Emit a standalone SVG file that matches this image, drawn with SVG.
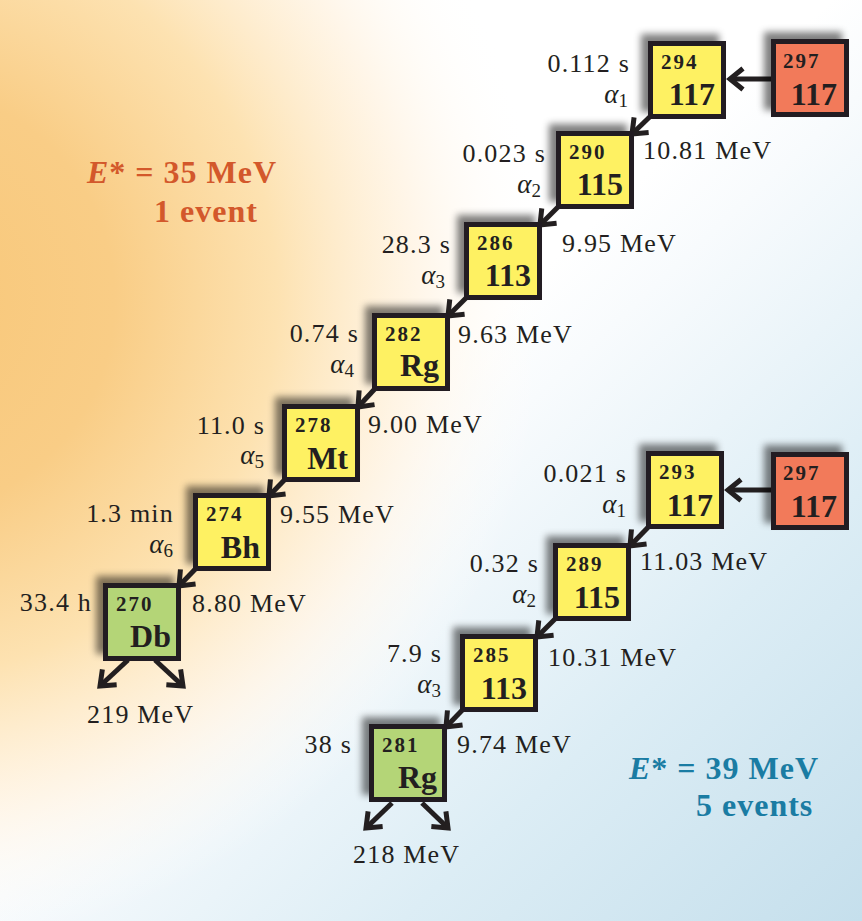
<svg xmlns="http://www.w3.org/2000/svg" width="862" height="921" viewBox="0 0 862 921">
<defs>
<linearGradient id="bg" gradientUnits="userSpaceOnUse" x1="0" y1="0" x2="862" y2="921">
<stop offset="0" stop-color="#FFFFFF"/>
<stop offset="0.45" stop-color="#FFFFFF"/>
<stop offset="0.52" stop-color="#F8FBFD"/>
<stop offset="0.75" stop-color="#DCEDF5"/>
<stop offset="1" stop-color="#C5DFEC"/>
</linearGradient>
<radialGradient id="og" gradientUnits="userSpaceOnUse" cx="-100" cy="300" r="650">
<stop offset="0" stop-color="#F8C778" stop-opacity="1"/>
<stop offset="0.33" stop-color="#F9CD86" stop-opacity="1"/>
<stop offset="0.58" stop-color="#FDE2B1" stop-opacity="1"/>
<stop offset="0.8" stop-color="#FFF4E4" stop-opacity="0.8"/>
<stop offset="1" stop-color="#FFFFFF" stop-opacity="0"/>
</radialGradient>
<filter id="sh" x="-30%" y="-30%" width="160%" height="160%">
<feGaussianBlur in="SourceAlpha" stdDeviation="3.5"/>
<feOffset dx="-7" dy="-7" result="b"/>
<feFlood flood-color="#000" flood-opacity="0.5"/>
<feComposite in2="b" operator="in"/>
<feMerge><feMergeNode/><feMergeNode in="SourceGraphic"/></feMerge>
</filter>
<marker id="ah" markerUnits="userSpaceOnUse" viewBox="-20 -15 26 30" refX="0" refY="0" markerWidth="26" markerHeight="30" orient="auto" overflow="visible">
<path d="M-13,-10.5 L0,0 L-13,10.5" fill="none" stroke="#231F20" stroke-width="5" stroke-linejoin="miter"/>
</marker>
<style>
.box{stroke:#231F20;stroke-width:5;filter:url(#sh)}
.y{fill:#FEF162}.r{fill:#F27A5A}.g{fill:#B4D577}
.num{font-family:"Liberation Serif",serif;font-weight:bold;font-size:21px;letter-spacing:2px;fill:#231F20}
.sym{font-family:"Liberation Serif",serif;font-weight:bold;font-size:32px;fill:#231F20;text-anchor:end}
.lbl{font-family:"Liberation Serif",serif;font-size:26px;letter-spacing:1.2px;fill:#231F20}
.t{text-anchor:end}
.al{font-family:"Liberation Serif",serif;font-size:27px;fill:#231F20;text-anchor:end}
.al .sub{font-size:19px;font-style:normal}
.es{font-family:"Liberation Serif",serif;font-weight:bold;font-size:32px;letter-spacing:1px}
.o{fill:#D3582B}.b{fill:#1A7CA3}
.arr{stroke:#231F20;stroke-width:5;fill:none;marker-end:url(#ah)}
</style>
</defs>
<rect x="0" y="0" width="862" height="921" fill="url(#bg)"/>
<rect x="0" y="0" width="862" height="921" fill="url(#og)"/>

<g id="connectors">
<line class="arr" x1="771" y1="79" x2="730" y2="79"/>
<line class="arr" x1="660" y1="107" x2="632" y2="134"/>
<line class="arr" x1="568" y1="197" x2="540" y2="225"/>
<line class="arr" x1="476" y1="288" x2="448" y2="316"/>
<line class="arr" x1="384" y1="379" x2="358" y2="407"/>
<line class="arr" x1="294" y1="470" x2="269" y2="496"/>
<line class="arr" x1="205" y1="559" x2="179" y2="586"/>
<line class="arr" x1="128" y1="660" x2="100" y2="686"/>
<line class="arr" x1="155" y1="660" x2="183" y2="686"/>
<line class="arr" x1="771" y1="490" x2="728" y2="490"/>
<line class="arr" x1="658" y1="517" x2="630" y2="546"/>
<line class="arr" x1="565" y1="609" x2="537" y2="637"/>
<line class="arr" x1="472" y1="700" x2="446" y2="727"/>
<line class="arr" x1="392" y1="803" x2="366" y2="828"/>
<line class="arr" x1="422" y1="803" x2="448" y2="828"/>
</g>

<g id="n297a"><rect class="box r" x="773.5" y="41.5" width="73" height="73"/><text class="num" x="783" y="68">297</text><text class="sym" x="837" y="105">117</text></g>
<g id="n294"><rect class="box y" x="650.5" y="43.5" width="73" height="73"/><text class="num" x="661" y="69">294</text><text class="sym" x="715" y="105">117</text></g>
<g id="n290"><rect class="box y" x="558.5" y="133.5" width="73" height="73"/><text class="num" x="569" y="159">290</text><text class="sym" x="623" y="195">115</text></g>
<g id="n286"><rect class="box y" x="466.5" y="224.5" width="73" height="73"/><text class="num" x="477" y="250">286</text><text class="sym" x="531" y="286">113</text></g>
<g id="n282"><rect class="box y" x="374.5" y="315.5" width="73" height="73"/><text class="num" x="385" y="341">282</text><text class="sym" x="439" y="376">Rg</text></g>
<g id="n278"><rect class="box y" x="284.5" y="406.5" width="73" height="73"/><text class="num" x="295" y="432">278</text><text class="sym" x="348" y="469">Mt</text></g>
<g id="n274"><rect class="box y" x="195.5" y="495.5" width="73" height="73"/><text class="num" x="206" y="521">274</text><text class="sym" x="260" y="558">Bh</text></g>
<g id="n270"><rect class="box g" x="105.5" y="585.5" width="73" height="73"/><text class="num" x="116" y="611">270</text><text class="sym" x="171" y="647">Db</text></g>

<g id="n297b"><rect class="box r" x="773.5" y="454.5" width="73" height="73"/><text class="num" x="783" y="480">297</text><text class="sym" x="837" y="517">117</text></g>
<g id="n293"><rect class="box y" x="648.5" y="453.5" width="73" height="73"/><text class="num" x="659" y="479">293</text><text class="sym" x="713" y="516">117</text></g>
<g id="n289"><rect class="box y" x="555.5" y="545.5" width="73" height="73"/><text class="num" x="566" y="571">289</text><text class="sym" x="620" y="608">115</text></g>
<g id="n285"><rect class="box y" x="462.5" y="636.5" width="73" height="73"/><text class="num" x="473" y="662">285</text><text class="sym" x="527" y="699">113</text></g>
<g id="n281"><rect class="box g" x="371.5" y="726.5" width="73" height="73"/><text class="num" x="382" y="752">281</text><text class="sym" x="437" y="788">Rg</text></g>

<g id="labels-upper">
<text class="lbl t" x="630" y="72">0.112 s</text>
<text class="al" x="628" y="103"><tspan font-style="italic">α</tspan><tspan class="sub" dy="4">1</tspan></text>
<text class="lbl" x="643" y="159">10.81 MeV</text>
<text class="lbl t" x="546" y="162">0.023 s</text>
<text class="al" x="541" y="193"><tspan font-style="italic">α</tspan><tspan class="sub" dy="4">2</tspan></text>
<text class="lbl" x="562" y="252">9.95 MeV</text>
<text class="lbl t" x="451" y="253">28.3 s</text>
<text class="al" x="445" y="284"><tspan font-style="italic">α</tspan><tspan class="sub" dy="4">3</tspan></text>
<text class="lbl" x="458" y="343">9.63 MeV</text>
<text class="lbl t" x="359" y="342">0.74 s</text>
<text class="al" x="354" y="373"><tspan font-style="italic">α</tspan><tspan class="sub" dy="4">4</tspan></text>
<text class="lbl" x="368" y="433">9.00 MeV</text>
<text class="lbl t" x="265" y="434">11.0 s</text>
<text class="al" x="264" y="464"><tspan font-style="italic">α</tspan><tspan class="sub" dy="4">5</tspan></text>
<text class="lbl" x="280" y="523">9.55 MeV</text>
<text class="lbl t" x="174" y="522">1.3 min</text>
<text class="al" x="173" y="553"><tspan font-style="italic">α</tspan><tspan class="sub" dy="4">6</tspan></text>
<text class="lbl" x="192" y="612">8.80 MeV</text>
<text class="lbl t" x="92" y="611">33.4 h</text>
<text class="lbl" x="87" y="723">219 MeV</text>
</g>

<g id="labels-lower">
<text class="lbl t" x="627" y="482">0.021 s</text>
<text class="al" x="626" y="513"><tspan font-style="italic">α</tspan><tspan class="sub" dy="4">1</tspan></text>
<text class="lbl" x="640" y="570">11.03 MeV</text>
<text class="lbl t" x="539" y="572">0.32 s</text>
<text class="al" x="536" y="603"><tspan font-style="italic">α</tspan><tspan class="sub" dy="4">2</tspan></text>
<text class="lbl" x="548" y="666">10.31 MeV</text>
<text class="lbl t" x="442" y="662">7.9 s</text>
<text class="al" x="441" y="693"><tspan font-style="italic">α</tspan><tspan class="sub" dy="4">3</tspan></text>
<text class="lbl" x="457" y="753">9.74 MeV</text>
<text class="lbl t" x="352" y="753">38 s</text>
<text class="lbl" x="353" y="863">218 MeV</text>
</g>

<g id="energy-35">
<text class="es o" x="87" y="183"><tspan font-style="italic">E</tspan>* = 35 MeV</text>
<text class="es o" x="154" y="222" letter-spacing="2.5">1 event</text>
</g>
<g id="energy-39">
<text class="es b" x="629" y="779"><tspan font-style="italic">E</tspan>* = 39 MeV</text>
<text class="es b" x="696" y="816" letter-spacing="2.5">5 events</text>
</g>
</svg>
